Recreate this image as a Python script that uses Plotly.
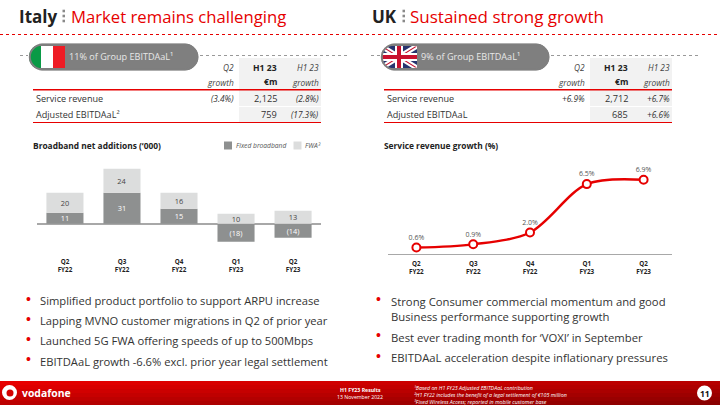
import plotly.graph_objects as go

W, H = 720, 405
RED = "#e60000"
DARK = "#333333"

quarters = ["Q2<br>FY22", "Q3<br>FY22", "Q4<br>FY22", "Q1<br>FY23", "Q2<br>FY23"]
fixed_broadband = [11, 31, 15, -18, -14]
fwa = [20, 24, 16, 10, 13]
fixed_labels = ["11", "31", "15", "(18)", "(14)"]
fwa_labels = ["20", "24", "16", "10", "13"]
uk_growth = [0.6, 0.9, 2.0, 6.5, 6.9]
uk_labels = ["0.6%", "0.9%", "2.0%", "6.5%", "6.9%"]

table_headers = ["Q2<br>growth", "H1 23<br>€m", "H1 23<br>growth"]
italy_rows = [["Service revenue", "(3.4%)", "2,125", "(2.8%)"],
              ["Adjusted EBITDAaL²", "", "759", "(17.3%)"]]
uk_rows = [["Service revenue", "+6.9%", "2,712", "+6.7%"],
           ["Adjusted EBITDAaL", "", "685", "+6.6%"]]
italy_bullets = ["Simplified product portfolio to support ARPU increase",
                 "Lapping MVNO customer migrations in Q2 of prior year",
                 "Launched 5G FWA offering speeds of up to 500Mbps",
                 "EBITDAaL growth -6.6% excl. prior year legal settlement"]
uk_bullets = ["Strong Consumer commercial momentum and good<br>Business performance supporting growth",
              "Best ever trading month for ‘VOXI’ in September",
              "EBITDAaL acceleration despite inflationary pressures"]
footnotes = ["¹Based on H1 FY23 Adjusted EBITDAaL contribution",
             "²H1 FY22 includes the benefit of a legal settlement of €105 million",
             "³Fixed Wireless Access; reported in mobile customer base"]

FONT = "Open Sans"
shapes, annots = [], []


def px(x):
    return x / W


def py(y):
    return 1 - y / H


def rect(x0, y0, x1, y1, fill, line=None, lw=0):
    shapes.append(dict(type="rect", xref="paper", yref="paper", x0=px(x0), x1=px(x1),
                       y0=py(y0), y1=py(y1), fillcolor=fill, layer="below",
                       line=dict(color=line or fill, width=lw)))


def hline(x0, x1, y, color, width=1, dash="solid"):
    shapes.append(dict(type="line", xref="paper", yref="paper", x0=px(x0), x1=px(x1),
                       y0=py(y), y1=py(y), layer="below",
                       line=dict(color=color, width=width, dash=dash)))


def poly(pts, fill):
    path = "M" + "L".join(f"{px(a)},{py(b)}" for a, b in pts) + "Z"
    shapes.append(dict(type="path", xref="paper", yref="paper", path=path,
                       fillcolor=fill, line=dict(width=0), layer="below"))


def text(x, y, s, size=10, color=DARK, anchor="left", **kw):
    annots.append(dict(xref="paper", yref="paper", x=px(x), y=py(y), text=s, showarrow=False,
                       xanchor=anchor, yanchor="middle", borderpad=0, borderwidth=0,
                       font=dict(family=kw.pop("family", FONT), size=size, color=color), **kw))


def rpill(x0, x1, y0, y1, fill, line, lw=1):
    r = (y1 - y0) / 2
    rx, ry = r / W, r / H
    X0, X1, Y0, Y1 = px(x0), px(x1), py(y0), py(y1)
    k = 0.45
    path = (f"M{X0+rx},{Y0} L{X1-rx},{Y0} C{X1-rx*k},{Y0} {X1},{Y0-ry*k} {X1},{Y0-ry} "
            f"C{X1},{Y1+ry*k} {X1-rx*k},{Y1} {X1-rx},{Y1} "
            f"L{X0+rx},{Y1} C{X0+rx*k},{Y1} {X0},{Y1+ry*k} {X0},{Y0-ry} "
            f"C{X0},{Y0-ry*k} {X0+rx*k},{Y0} {X0+rx},{Y0} Z")
    shapes.append(dict(type="path", xref="paper", yref="paper", path=path, fillcolor=fill,
                       line=dict(color=line, width=lw), layer="below"))


def corner_masks(x0, y0, y1):
    r = (y1 - y0) / 2
    k = 0.45
    for ya, sign in ((y0, 1), (y1, -1)):
        c1x, c1y = x0 + r * k, ya
        c2x, c2y = x0, ya + sign * r * k
        path = (f"M{px(x0-1)},{py(ya)} L{px(x0+r)},{py(ya)} "
                f"C{px(c1x)},{py(c1y)} {px(c2x)},{py(c2y)} {px(x0)},{py(ya+sign*r)} "
                f"L{px(x0-1)},{py(ya+sign*r)} Z")
        shapes.append(dict(type="path", xref="paper", yref="paper", path=path, fillcolor="#ffffff",
                           line=dict(width=0), layer="below"))


def circle(x0, y0, x1, y1, fill):
    shapes.append(dict(type="circle", xref="paper", yref="paper", x0=px(x0), x1=px(x1), y0=py(y1), y1=py(y0),
                       fillcolor=fill, line=dict(width=0), layer="below"))


# Titles and rules
text(19, 16, "<b>Italy</b>", 17, "#222222")
text(71, 16, "Market remains challenging", 16.7, RED)
text(372, 16, "<b>UK</b>", 17, "#222222")
text(410, 16, "Sustained strong growth", 17, RED)
for ym in (11, 16, 21):
    rect(62.5, ym - 1.3, 65, ym + 1.3, "#8a8a8a")
    rect(402.5, ym - 1.3, 405, ym + 1.3, "#8a8a8a")
hline(0, 720, 34.5, RED, 1, "dot")
hline(20, 348, 55.5, "#999999", 1, "dot")
hline(371, 700, 55.5, "#999999", 1, "dot")

rpill(29, 198, 44, 70, "#7f7f7f", "#7f7f7f")
rpill(381, 549, 44, 70, "#7f7f7f", "#7f7f7f")
text(69, 57, "11% of Group EBITDAaL¹", 9.1, "#e8e8e8")
text(421, 57, "9% of Group EBITDAaL¹", 9.1, "#e8e8e8")

# Italian flag
rect(29, 46, 41, 68, "#0a9a46")
rect(41, 46, 53, 68, "#ffffff")
rect(53, 46, 65, 68, "#ee1c25")
corner_masks(29, 44, 70)
rpill(29.8, 197.2, 44.8, 69.2, "rgba(0,0,0,0)", "#7f7f7f", 2)
# UK flag
rect(381, 46, 417, 68, "#27336e")
poly([(381, 46), (386, 46), (417, 65), (417, 68), (412, 68), (381, 49)], "#ffffff")
poly([(417, 46), (412, 46), (381, 65), (381, 68), (386, 68), (417, 49)], "#ffffff")
poly([(381, 46.5), (383, 46.5), (417, 67.5), (415, 67.5)], "#c8102e")
poly([(417, 46.5), (415, 46.5), (381, 67.5), (383, 67.5)], "#c8102e")
rect(395, 46, 403, 68, "#ffffff")
rect(381, 53, 417, 61, "#ffffff")
rect(397, 46, 401, 68, "#c8102e")
rect(381, 55, 417, 59, "#c8102e")
corner_masks(381, 44, 70)
rpill(381.8, 548.2, 44.8, 69.2, "rgba(0,0,0,0)", "#7f7f7f", 2)


def table(left, colx, shade, right, rows):
    rect(shade, 58, right, 122, "#f2f2f2")
    hline(left, right, 89.7, RED, 1.5)
    hline(left, right, 122.5, RED, 1.2)
    hline(shade, right, 106.5, "#ffffff", 1)
    for i, h in enumerate(table_headers):
        a, b = h.split("<br>")
        bold = i == 1
        for y, part in ((68, a), (82, b)):
            text(colx[i], y, f"<b>{part}</b>" if bold else f"<i>{part}</i>",
                 8.6 if bold else 8.3, "#222222" if bold else "#444444", "right")
    for r, y in zip(rows, (98.5, 115)):
        text(left + 3, y, r[0], 9.1, DARK)
        if r[1]:
            text(colx[0], y, f"<i>{r[1]}</i>", 8.3, "#333333", "right")
        text(colx[1], y, r[2], 9.2, DARK, "right")
        text(colx[2], y, f"<i>{r[3]}</i>", 8.3, "#333333", "right")


table(33, [234, 277, 319], 239, 321, italy_rows)
table(384, [585, 628, 670], 590, 672, uk_rows)

# Chart titles and legend
text(33, 145, "<b>Broadband net additions (‘000)</b>", 8.4, "#222222")
text(384, 145, "<b>Service revenue growth (%)</b>", 8.4, "#222222")
rect(224, 141.5, 232, 149.5, "#8e9090")
text(235.5, 145.5, "<i>Fixed broadband</i>", 6.7, "#555555")
rect(293.5, 141.5, 301.5, 149.5, "#dcdddd")
text(305, 145.5, "<i>FWA³</i>", 6.7, "#555555")

# Bullets
for y, b in zip((300.5, 320.5, 340.5, 361), italy_bullets):
    text(26, y - 2, "•", 14, RED, family="Liberation Sans")
    text(40, y, b, 11.2, "#333333")
for y, b in zip((308.5, 337, 357.5), uk_bullets):
    first = y - 8 if "<br>" in b else y
    text(376, first - 2, "•", 14, RED, family="Liberation Sans")
    text(391, y, b, 11.3, "#333333", align="left")

# Footer
cols, rows = 24, 6
for j in range(rows):
    for i in range(cols):
        r = int(232 - 50 * i / (cols - 1) - 44 * j / (rows - 1))
        rect(W * i / cols, 381 + 4 * j, W * (i + 1) / cols + 1, 385.5 + 4 * j, f"rgb({r},0,0)")
circle(2, 385, 17, 400, "#ffffff")
circle(6.5, 389.5, 13.5, 396.5, "#d40000")
text(22, 393, "<b>vodafone</b>", 10.4, "#ffffff")
text(360, 389.5, "<b>H1 FY23 Results</b>", 5.2, "#ffffff", "center")
text(360, 397, "13 November 2022", 5.2, "#ffffff", "center")
for y, f in zip((387.5, 394.5, 401.5), footnotes):
    text(414, y, f"<i>{f}</i>", 5.3, "#ffffff")
circle(697, 385.5, 712, 400.5, "#ffffff")
text(704.5, 393, "<b>11</b>", 8.5, "#111111", "center")

# Charts
tickfont = dict(family=FONT, size=6.3, color="#222222", weight=700)
fig = go.Figure()
fig.add_trace(go.Bar(x=quarters, y=fixed_broadband, name="Fixed broadband", marker=dict(color="#8e9090", line=dict(width=0)),
                     text=fixed_labels, textposition="inside", insidetextanchor="middle", constraintext="none",
                     textangle=0, textfont=dict(family=FONT, size=7.4, color="#ffffff"), width=0.65, xaxis="x", yaxis="y"))
fig.add_trace(go.Bar(x=quarters, y=fwa, name="FWA", marker=dict(color="#dcdddd", line=dict(width=0)),
                     text=fwa_labels, textposition="inside", insidetextanchor="middle", constraintext="none",
                     textangle=0, textfont=dict(family=FONT, size=7.4, color="#444444"), width=0.65, xaxis="x", yaxis="y"))
fig.add_trace(go.Scatter(x=quarters, y=uk_growth, mode="lines+markers+text", text=uk_labels, textposition="top center",
                         textfont=dict(family=FONT, size=7, color="#555555"),
                         line=dict(color=RED, width=2.4, shape="spline", smoothing=0.9),
                         marker=dict(size=8, color="#ffffff", line=dict(color=RED, width=2)),
                         xaxis="x2", yaxis="y2", cliponaxis=False))

fig.update_layout(
    width=W, height=H, margin=dict(l=0, r=0, t=0, b=0), paper_bgcolor="#ffffff", plot_bgcolor="rgba(0,0,0,0)",
    barmode="relative", bargap=0.35, showlegend=False, shapes=shapes, annotations=annots,
    xaxis=dict(domain=[px(37), px(321)], anchor="y", type="category", range=[-0.49, 4.49], showgrid=False,
               showline=False, zeroline=False, ticks="", tickfont=tickfont, tickangle=0, ticklabelstandoff=3),
    yaxis=dict(domain=[py(254), py(150)], range=[-30.3, 73.7], visible=True, showgrid=False, showticklabels=False,
               ticks="", zeroline=True, zerolinecolor="#a8a8a8", zerolinewidth=1.8, showline=False),
    xaxis2=dict(domain=[px(388), px(672)], anchor="y2", type="category", range=[-0.5, 4.5], showgrid=False,
                showline=True, linecolor="#a8a8a8", linewidth=1, zeroline=False, ticks="", tickfont=tickfont,
                tickangle=0, ticklabelstandoff=3),
    yaxis2=dict(domain=[py(254), py(150)], range=[0, 9.67], showgrid=False, showticklabels=False, ticks="",
                zeroline=False, showline=False),
)
fig.write_html("out.html", config=dict(displayModeBar=False),
               post_script="document.body.style.margin='0';document.body.style.overflow='hidden';")
